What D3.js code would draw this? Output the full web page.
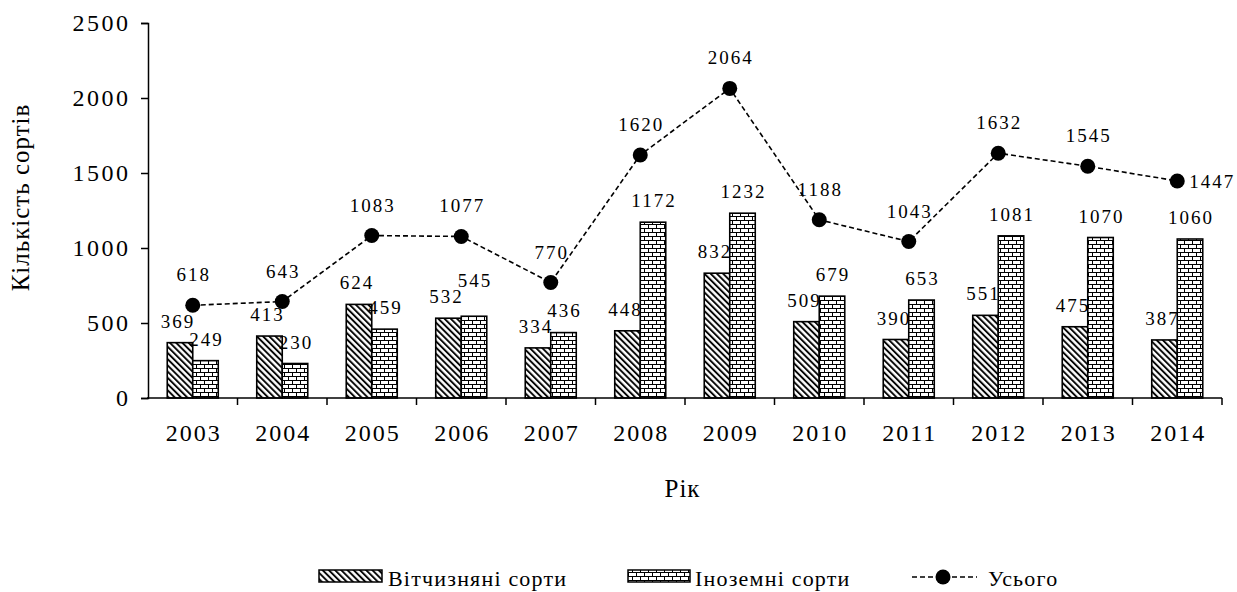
<!DOCTYPE html>
<html>
<head>
<meta charset="utf-8">
<script src="https://cdn.jsdelivr.net/npm/d3@7"></script>
<style>
  body { margin: 0; background: #fff; }
</style>
</head>
<body>
<svg id="chart" width="1237" height="592"></svg>
<script>
const years = ['2003', '2004', '2005', '2006', '2007', '2008', '2009', '2010', '2011', '2012', '2013', '2014'];
const domestic = [369, 413, 624, 532, 334, 448, 832, 509, 390, 551, 475, 387];
const foreign = [249, 230, 459, 545, 436, 1172, 1232, 679, 653, 1081, 1070, 1060];
const total = [618, 643, 1083, 1077, 770, 1620, 2064, 1188, 1043, 1632, 1545, 1447];
const yTicks = [0, 500, 1000, 1500, 2000, 2500];
const seriesNames = ['Вітчизняні сорти', 'Іноземні сорти', 'Усього'];

const FONT = '"Liberation Serif"';
const svg = d3.select('#chart');

const marginLeft = 148, marginRight = 15, marginTop = 23, xAxisY = 398;
const width = 1237;

const x = d3.scaleBand()
  .domain(years)
  .range([marginLeft, width - marginRight])
  .paddingInner(0.43)
  .paddingOuter(0.215);
const xStep = x.step();
const xSub = d3.scaleBand().domain(['d', 'f']).range([0, x.bandwidth()]);
const y = d3.scaleLinear().domain([0, 2500]).range([xAxisY, marginTop]);

// patterns
const defs = svg.append('defs');
const diag = defs.append('pattern')
  .attr('id', 'diag').attr('patternUnits', 'userSpaceOnUse')
  .attr('width', 4.4).attr('height', 10)
  .attr('patternTransform', 'rotate(-45)');
diag.append('rect').attr('width', 4.4).attr('height', 10).attr('fill', '#fff');
diag.append('line').attr('x1', 1).attr('x2', 1).attr('y1', 0).attr('y2', 10)
  .attr('stroke', '#000').attr('stroke-width', 1.9);

const brick = defs.append('pattern')
  .attr('id', 'brick').attr('patternUnits', 'userSpaceOnUse')
  .attr('width', 8).attr('height', 8);
brick.append('rect').attr('width', 8).attr('height', 8).attr('fill', '#fff');
brick.append('path')
  .attr('d', 'M0,0.5H8M0,4.5H8M0.5,0.5V4.5M4.5,4.5V8.5')
  .attr('stroke', '#000').attr('stroke-width', 1).attr('fill', 'none');

// text helper: reference text is Times with loose letter spacing
function label(g, txt, px, py, size, anchor, ls) {
  const sp = ls == null ? 2 : ls;
  const a = anchor || 'middle';
  const shift = a === 'end' ? sp : a === 'middle' ? sp / 2 : 0; // undo trailing spacing
  return g.append('text')
    .attr('x', px + shift).attr('y', py)
    .attr('text-anchor', a)
    .attr('fill', '#000')
    .style('font-family', FONT)
    .style('font-size', size + 'px')
    .style('letter-spacing', sp + 'px')
    .text(txt);
}

// y axis
const yAxis = svg.append('g').attr('transform', `translate(${marginLeft},0)`)
  .call(d3.axisLeft(y).tickValues(yTicks).tickSize(7).tickFormat(''));
yAxis.select('.domain').attr('stroke', '#000').attr('stroke-width', 1.5);
yAxis.selectAll('.tick line').attr('stroke', '#000').attr('stroke-width', 1.5);
yTicks.forEach(t => label(svg, t, 128, y(t) + 8, 24, 'end', 2.5));

// bars + value labels
const data = years.map((yr, i) => ({ yr, d: domestic[i], f: foreign[i], t: total[i] }));
data.forEach(d => {
  d.ld = y(d.d) - 15;
  d.lf = y(d.f) - 15;
  // nudge labels apart when they would collide
  if (Math.abs(d.ld - d.lf) < 16) {
    if (d.lf <= d.ld) d.lf = d.ld - 16;
    else d.ld = d.lf - 16;
  }
});

const gD = svg.append('g');
gD.selectAll('rect').data(data).join('rect')
  .attr('x', d => x(d.yr) + xSub('d'))
  .attr('y', d => y(d.d))
  .attr('width', xSub.bandwidth())
  .attr('height', d => y(0) - y(d.d))
  .attr('fill', 'url(#diag)').attr('stroke', '#000').attr('stroke-width', 1.6);
data.forEach(d => label(gD, d.d, x(d.yr) + xSub('d') + xSub.bandwidth() / 2 - 3, d.ld, 19));

const gF = svg.append('g');
gF.selectAll('rect').data(data).join('rect')
  .attr('x', d => x(d.yr) + xSub('f'))
  .attr('y', d => y(d.f))
  .attr('width', xSub.bandwidth())
  .attr('height', d => y(0) - y(d.f))
  .attr('fill', 'url(#brick)').attr('stroke', '#000').attr('stroke-width', 1.6);
data.forEach(d => label(gF, d.f, x(d.yr) + xSub('f') + xSub.bandwidth() / 2, d.lf, 19));

// x axis
const gx = svg.append('g');
gx.append('line').attr('x1', marginLeft - 1).attr('x2', width - marginRight)
  .attr('y1', xAxisY).attr('y2', xAxisY).attr('stroke', '#000').attr('stroke-width', 1.5);
d3.range(1, years.length + 1).forEach(i => {
  const bx = x(years[0]) - x.paddingOuter() * xStep + i * xStep;
  gx.append('line').attr('x1', bx).attr('x2', bx)
    .attr('y1', xAxisY).attr('y2', xAxisY + 7).attr('stroke', '#000').attr('stroke-width', 1.5);
});
years.forEach(yr => label(gx, yr, x(yr) + x.bandwidth() / 2, 441, 24, 'middle', 2));

// total line
const cx = d => x(d.yr) + x.bandwidth() / 2;
const line = d3.line().x(cx).y(d => y(d.t));
svg.append('path').datum(data).attr('d', line)
  .attr('fill', 'none').attr('stroke', '#000').attr('stroke-width', 1.6)
  .attr('stroke-dasharray', '5,3');
svg.append('g').selectAll('circle').data(data).join('circle')
  .attr('cx', cx).attr('cy', d => y(d.t)).attr('r', 7.5).attr('fill', '#000');
data.forEach((d, i) => {
  if (i === data.length - 1) label(svg, d.t, cx(d) + 12, y(d.t) + 7, 19, 'start');
  else label(svg, d.t, cx(d), y(d.t) - 24, 19);
});

// axis titles
label(svg, 'Рік', 682, 497, 25, 'middle', 1);
label(svg, 'Кількість сортів', 0, 0, 25, 'middle', 1)
  .attr('transform', 'translate(29,198) rotate(-90)');

// legend
const lg = svg.append('g');
lg.append('rect').attr('x', 319).attr('y', 570).attr('width', 63).attr('height', 12)
  .attr('fill', 'url(#diag)').attr('stroke', '#000').attr('stroke-width', 1.5);
label(lg, seriesNames[0], 388, 586, 22, 'start', 1.2);
lg.append('rect').attr('x', 628).attr('y', 570).attr('width', 62).attr('height', 12)
  .attr('fill', 'url(#brick)').attr('stroke', '#000').attr('stroke-width', 1.5);
label(lg, seriesNames[1], 695, 586, 22, 'start', 1.2);
lg.append('line').attr('x1', 912).attr('x2', 977).attr('y1', 577).attr('y2', 577)
  .attr('stroke', '#000').attr('stroke-width', 1.6).attr('stroke-dasharray', '5,3');
lg.append('circle').attr('cx', 943).attr('cy', 577).attr('r', 7.5).attr('fill', '#000');
label(lg, seriesNames[2], 988, 586, 22, 'start', 1.2);
</script>
</body>
</html>
